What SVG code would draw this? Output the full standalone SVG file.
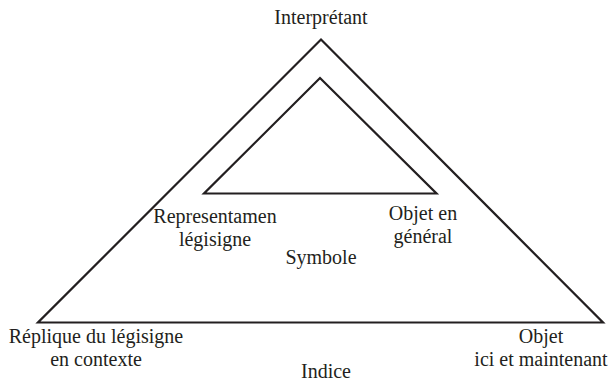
<svg xmlns="http://www.w3.org/2000/svg" width="610" height="381" viewBox="0 0 610 381">
<style>
.tri{fill:none;stroke:#231f20;stroke-width:2.2;stroke-linejoin:miter}
text{font-family:"Liberation Serif","Times New Roman",serif;font-size:20px;fill:#231f20;text-anchor:middle}
</style>
<rect width="610" height="381" fill="#ffffff"/>
<g id="connectors">
<polygon id="outer" class="tri" points="321,39.5 603,322.5 38,322.5"/>
<polygon id="inner" class="tri" points="320,78 436.5,193.5 204,193.5"/>
</g>
<g id="interpretant"><text x="321" y="24">Interprétant</text></g>
<g id="representamen"><text x="215" y="223">Representamen</text><text x="215" y="246">légisigne</text></g>
<g id="objet-general"><text x="423" y="220">Objet en</text><text x="423" y="243">général</text></g>
<g id="symbole"><text x="321" y="264">Symbole</text></g>
<g id="replique"><text x="96" y="343">Réplique du légisigne</text><text x="96" y="366">en contexte</text></g>
<g id="indice"><text x="326" y="378">Indice</text></g>
<g id="objet-ici"><text x="541" y="343">Objet</text><text x="541" y="366">ici et maintenant</text></g>
</svg>
